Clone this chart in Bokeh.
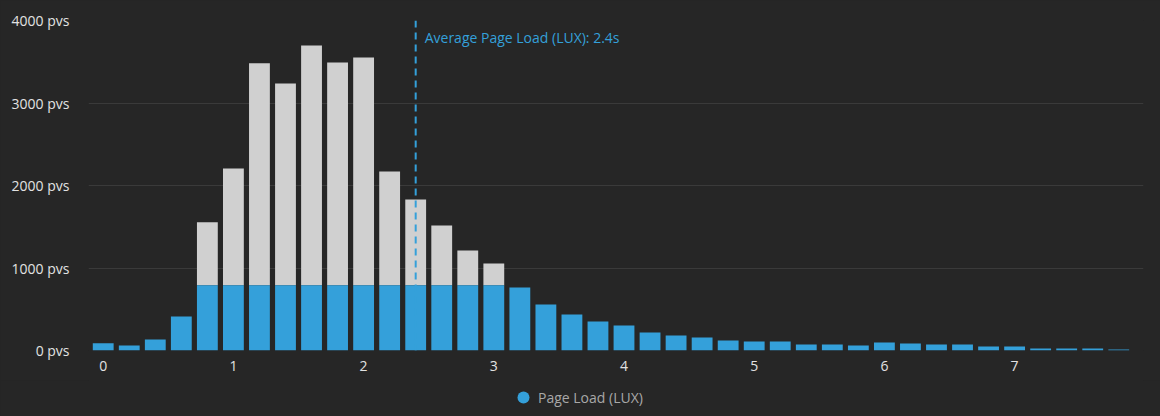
from bokeh.plotting import figure
from bokeh.layouts import column
from bokeh.models import Range1d, Span, Label, Legend, LegendItem, PrintfTickFormatter, FixedTicker, ColumnDataSource
from bokeh.embed import file_html
from bokeh.resources import INLINE

# ---- data ----
bins = [0.0, 0.2, 0.4, 0.6, 0.8, 1.0, 1.2, 1.4, 1.6, 1.8,
        2.0, 2.2, 2.4, 2.6, 2.8, 3.0, 3.2, 3.4, 3.6, 3.8,
        4.0, 4.2, 4.4, 4.6, 4.8, 5.0, 5.2, 5.4, 5.6, 5.8,
        6.0, 6.2, 6.4, 6.6, 6.8, 7.0, 7.2, 7.4, 7.6, 7.8]
totals = [88, 60, 133, 412, 1555, 2206, 3483, 3236, 3697, 3491,
          3552, 2170, 1830, 1515, 1212, 1055, 764, 558, 436, 352,
          303, 218, 182, 158, 121, 109, 109, 73, 73, 61,
          97, 85, 73, 73, 48, 48, 24, 24, 24, 12]
blue = [88, 60, 133, 412, 790, 790, 790, 790, 790, 790,
        790, 790, 790, 790, 790, 790, 764, 558, 436, 352,
        303, 218, 182, 158, 121, 109, 109, 73, 73, 61,
        97, 85, 73, 73, 48, 48, 24, 24, 24, 12]
y_ticks = [0, 1000, 2000, 3000, 4000]
x_ticks = [0, 1, 2, 3, 4, 5, 6, 7]
average = 2.4
series_name = "Page Load (LUX)"
avg_label = "Average Page Load (LUX): 2.4s"

BG = "#262626"
BLUE = "#34a0da"
GREY = "#d0d0d0"
FONT = "Open Sans"

src = ColumnDataSource(dict(x=bins, total=totals, blue=blue))

p = figure(width=1160, height=380, output_backend="svg", toolbar_location=None,
           x_range=Range1d(-0.113, 7.99), y_range=Range1d(0, 4000),
           min_border_left=88, min_border_right=17, min_border_top=20, min_border_bottom=30)
p.background_fill_color = BG
p.border_fill_color = BG
p.outline_line_color = None
p.styles = {"background-color": BG}

p.vbar(x="x", bottom="blue", top="total", width=0.16, source=src, fill_color=GREY, line_color=None)
p.vbar(x="x", bottom=0, top="blue", width=0.16, source=src, fill_color=BLUE, line_color=None)

p.xgrid.grid_line_color = None
p.ygrid.grid_line_color = "#3a3a3a"
p.ygrid.ticker = FixedTicker(ticks=y_ticks)

p.yaxis.ticker = FixedTicker(ticks=y_ticks)
p.yaxis.formatter = PrintfTickFormatter(format="%d pvs")
p.xaxis.ticker = FixedTicker(ticks=x_ticks)
for ax in (p.xaxis, p.yaxis):
    ax.axis_line_color = None
    ax.major_tick_line_color = None
    ax.minor_tick_line_color = None
    ax.major_label_text_color = "#e2e2e2"
    ax.major_label_text_font = FONT
    ax.major_label_text_font_size = "14px"
p.yaxis.major_label_standoff = 13
p.xaxis.major_label_standoff = 4

p.add_layout(Span(location=average, dimension="height", line_color=BLUE,
                  line_width=2, line_dash="7 5"))
p.add_layout(Label(x=average, y=3794, x_offset=9, text=avg_label, text_color=BLUE,
                   text_font=FONT, text_font_size="14px", text_baseline="middle"))

# legend strip below the chart
lg = figure(width=1160, height=36, output_backend="svg", toolbar_location=None,
            x_range=Range1d(0, 1), y_range=Range1d(0, 1),
            x_axis_type=None, y_axis_type=None,
            min_border_left=0, min_border_right=0, min_border_top=0, min_border_bottom=0)
lg.background_fill_color = BG
lg.border_fill_color = BG
lg.outline_line_color = None
lg.styles = {"background-color": BG}
lg.xgrid.visible = False
lg.ygrid.visible = False
dummy = lg.scatter(x=[-10], y=[-10], marker="circle", size=12, fill_color=BLUE, line_color=None)
legend = Legend(items=[LegendItem(label=series_name, renderers=[dummy])],
                location=(420, 4), orientation="horizontal",
                background_fill_alpha=0, border_line_color=None,
                label_text_color="#a8a8a8", label_text_font=FONT, label_text_font_size="14px",
                glyph_width=30, glyph_height=30, label_standoff=0, padding=0, margin=0)
lg.add_layout(legend, "center")

layout = column(p, lg, spacing=0)
layout.styles = {"background-color": BG}
html = file_html(layout, INLINE)
html = html.replace("<body>", '<body style="background:%s;">' % BG, 1)
open("out.html", "w").write(html)
